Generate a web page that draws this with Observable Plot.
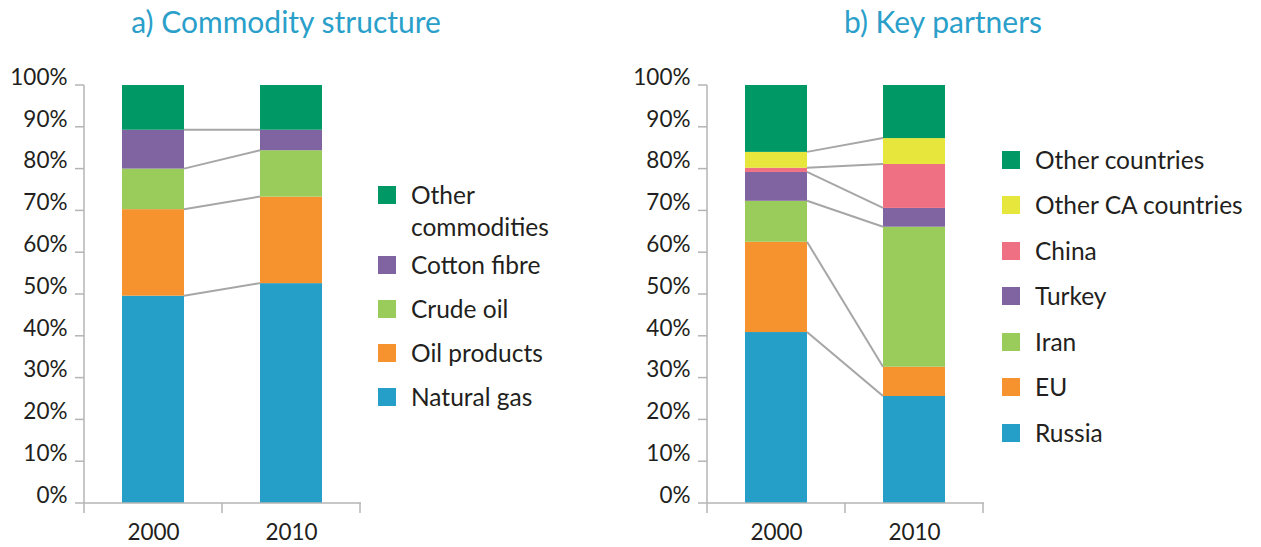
<!DOCTYPE html>
<html><head><meta charset="utf-8">
<script src="https://cdn.jsdelivr.net/npm/d3@7"></script>
<script src="https://cdn.jsdelivr.net/npm/@observablehq/plot@0.6"></script>
<style>
html,body{margin:0;padding:0;background:#fff;}
#root{position:relative;width:1261px;height:547px;overflow:hidden;font-family:Lato,"Open Sans",sans-serif;color:#231f20;}
.title{position:absolute;top:3px;font-size:30px;line-height:1.2;color:#2a9fca;white-space:nowrap;transform:translateX(-50%);}
.panel{position:absolute;top:0;}
.legend{position:absolute;font-size:24.5px;}
.item{display:flex;align-items:flex-start;}
.sw{width:18px;height:18px;flex:none;margin-right:15px;}
.lt{line-height:32px;}
</style></head>
<body><div id="root"></div>
<script>
const years = ["2000", "2010"];
const yTicks = [0, 10, 20, 30, 40, 50, 60, 70, 80, 90, 100];
const titles = ["a) Commodity structure", "b) Key partners"];

const commoditySeries = ["Natural gas", "Oil products", "Crude oil", "Cotton fibre", "Other commodities"];
const commodity2000 = [49.6, 20.7, 9.7, 9.3, 10.7];
const commodity2010 = [52.6, 20.7, 11.1, 4.9, 10.7];
const commodityColors = ["#259fc8", "#f7932f", "#9acc5b", "#8064a2", "#009966"];

const partnerSeries = ["Russia", "EU", "Iran", "Turkey", "China", "Other CA countries", "Other countries"];
const partner2000 = [40.9, 21.6, 9.8, 6.9, 1.0, 3.8, 16.0];
const partner2010 = [25.6, 7.0, 33.5, 4.5, 10.5, 6.2, 12.7];
const partnerColors = ["#259fc8", "#f7932f", "#9acc5b", "#8064a2", "#f07083", "#e6e63c", "#009966"];

const root = document.getElementById("root");

function panel(series, v0, v1, colors, left) {
  const data = series.flatMap((s, i) => [
    {year: years[0], series: s, value: v0[i]},
    {year: years[1], series: s, value: v1[i]}
  ]);
  const cum = v => { let s = 0; return v.map(d => s += d); };
  const c0 = cum(v0).slice(0, -1), c1 = cum(v1).slice(0, -1);
  const grey = "#b4b4b4";
  const decor = (index, {x, y}) => {
    const g = d3.create("svg:g").attr("fill", "none");
    const bw = x.bandwidth(), step = x.step();
    const [xa, xb] = x.range();
    const yb = y(0), yt = y(100);
    const line = (x1, y1, x2, y2, stroke, sw) => g.append("line")
      .attr("x1", x1).attr("y1", y1).attr("x2", x2).attr("y2", y2)
      .attr("stroke", stroke).attr("stroke-width", sw);
    line(xa, yt, xa, yb, grey, 1.5);
    line(xa, yb, xb, yb, grey, 1.5);
    for (const t of yTicks) line(xa - 9, y(t), xa, y(t), grey, 1.5);
    const bounds = years.map(d => x(d) + bw / 2 - step / 2)
      .concat([x(years[years.length - 1]) + bw / 2 + step / 2]);
    for (const b of bounds) line(b, yb, b, yb + 10, grey, 1.5);
    c0.forEach((v, i) => line(x(years[0]) + bw, y(v), x(years[1]), y(c1[i]), "#a6a6a6", 2));
    return g.node();
  };
  const chart = Plot.plot({
    width: 364, height: 547,
    marginLeft: 84, marginRight: 3, marginTop: 85, marginBottom: 44,
    style: {fontFamily: "Lato, sans-serif", fontSize: "22px", color: "#231f20", background: "transparent", overflow: "visible"},
    x: {domain: years, paddingInner: 0.55, paddingOuter: 0.275, label: null},
    y: {domain: [0, 100], label: null, axis: null},
    color: {domain: series, range: colors},
    marks: [
      Plot.barY(data, {x: "year", y: "value", fill: "series"}),
      decor,
      Plot.text(yTicks, {y: d => d, text: d => d + "%", frameAnchor: "left", textAnchor: "end", dx: -17, dy: -8, fill: "#231f20", fontSize: 22.5}),
      Plot.axisX({tickSize: 0, tickPadding: 21, fontSize: 22.5, fill: "#231f20", label: null})
    ]
  });
  const div = document.createElement("div");
  div.className = "panel";
  div.style.left = left + "px";
  div.appendChild(chart);
  root.appendChild(div);
}

function legend(series, colors, left, top, rowH, maxW) {
  const div = document.createElement("div");
  div.className = "legend";
  div.style.left = left + "px";
  div.style.top = top + "px";
  const order = series.map((s, i) => i).reverse();
  for (const i of order) {
    const it = document.createElement("div");
    it.className = "item";
    it.style.minHeight = rowH + "px";
    const sw = document.createElement("div");
    sw.className = "sw";
    sw.style.background = colors[i];
    sw.style.marginTop = (rowH / 2 - 9) + "px";
    const t = document.createElement("div");
    t.className = "lt";
    t.style.marginTop = (rowH / 2 - 16) + "px";
    if (maxW) t.style.maxWidth = maxW + "px";
    t.textContent = series[i];
    it.appendChild(sw); it.appendChild(t);
    div.appendChild(it);
  }
  root.appendChild(div);
}

function title(text, cx) {
  const d = document.createElement("div");
  d.className = "title";
  d.style.left = cx + "px";
  d.textContent = text;
  root.appendChild(d);
}

title(titles[0], 286);
title(titles[1], 943);
panel(commoditySeries, commodity2000, commodity2010, commodityColors, 0);
panel(partnerSeries, partner2000, partner2010, partnerColors, 623);
legend(commoditySeries, commodityColors, 378, 173, 44, 160);
legend(partnerSeries, partnerColors, 1002, 137, 45.5, 0);
</script>
</body></html>
